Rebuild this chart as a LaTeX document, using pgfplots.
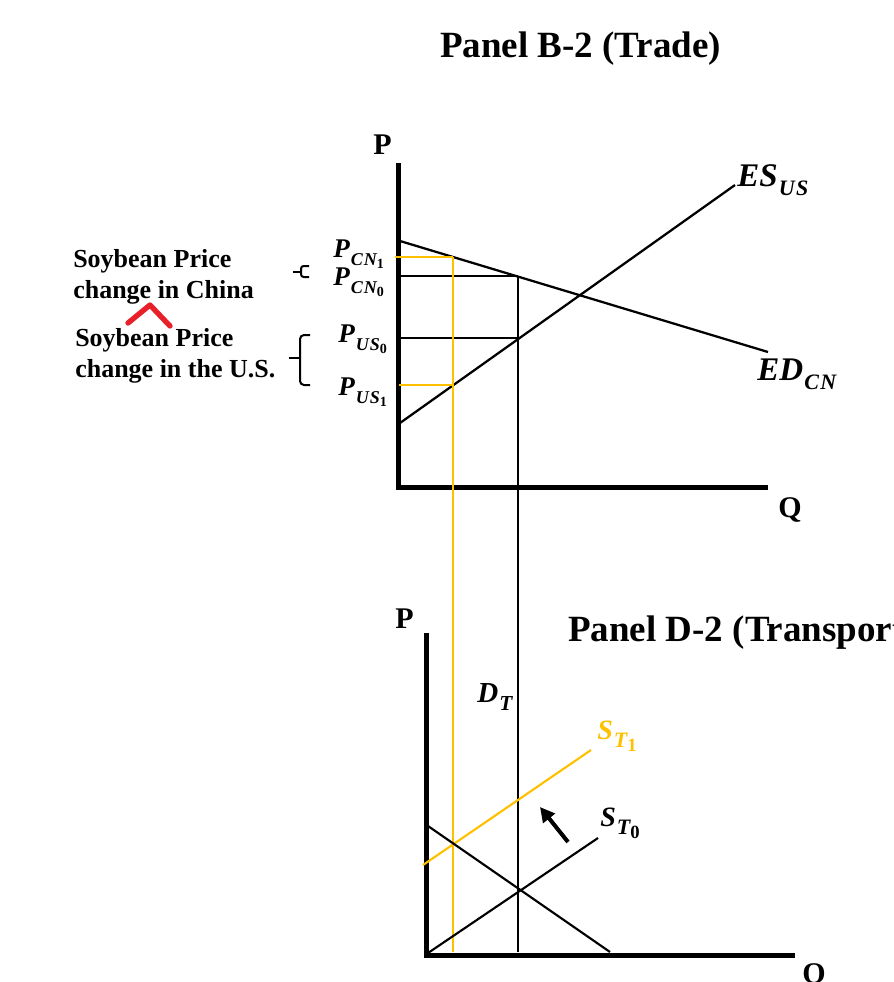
\documentclass[border=0pt]{standalone}
\usepackage{fontspec}
\setmainfont{Liberation Serif}
\usepackage{pgfplots}
\pgfplotsset{compat=1.18}
\usetikzlibrary{arrows.meta}
\definecolor{gold}{HTML}{FFC000}
\definecolor{caret}{HTML}{E8202A}
\newcommand{\fs}[1]{\fontsize{#1}{#1}\selectfont}
\newcommand{\lbl}[6]{{\bfseries\itshape\fs{#1}#4\kern0.04em\raisebox{-0.3em}{\fs{#2}\addfontfeature{LetterSpace=6}#5\raisebox{-0.2em}{\fs{#3}\upshape #6}}}}
\begin{document}
\begin{tikzpicture}
\useasboundingbox (0,0) rectangle (669.75pt,736.5pt);
\clip (0,0) rectangle (669.75pt,736.5pt);
\begin{axis}[
  at={(0,0)}, anchor=south west,
  scale only axis, width=669.75pt, height=736.5pt,
  xmin=0, xmax=893, ymin=0, ymax=982, y dir=reverse,
  hide axis, clip=false,
]
% ---- Panel B-2 axes
\addplot[black, line width=3.75pt, line join=miter] coordinates {(398,163) (398,487) (768,487)};
% ED_CN and ES_US
\addplot[black, line width=1.7pt] coordinates {(400,241) (768,352)};
\addplot[black, line width=1.7pt] coordinates {(400,423) (735,185)};
% initial equilibrium lines
\addplot[black, line width=1.5pt] coordinates {(398,276) (518,276)};
\addplot[black, line width=1.5pt] coordinates {(398,338) (518,338)};
\addplot[black, line width=1.5pt] coordinates {(518,276) (518,952)};
% new equilibrium (gold)
\addplot[gold, line width=1.5pt] coordinates {(395,257) (453,257)};
\addplot[gold, line width=1.5pt] coordinates {(399,385) (453,385)};
\addplot[gold, line width=1.5pt] coordinates {(453,257) (453,952)};
% ---- Panel D-2 axes
\addplot[black, line width=3.75pt, line join=miter] coordinates {(426,633) (426,955) (795,955)};
\addplot[gold, line width=1.6pt] coordinates {(423,865) (591,750)};
\addplot[black, line width=1.6pt] coordinates {(428,953) (598,838)};
\addplot[black, line width=1.6pt] coordinates {(428,826) (610,952)};
\addplot[black, line width=3pt, -{Triangle[length=11pt,width=11pt]}] coordinates {(568,842) (540,807)};
% red caret
\addplot[caret, line width=4pt, line cap=round, line join=round] coordinates {(128,323) (150,305) (170,326)};
% brackets
\draw[black, line width=1.5pt, rounded corners=2pt] (axis cs:309,266) -- (axis cs:301,266) -- (axis cs:301,277) -- (axis cs:309,277);
\draw[black, line width=1.5pt] (axis cs:293,271.5) -- (axis cs:301,271.5);
\draw[black, line width=1.5pt, rounded corners=3pt] (axis cs:310,335) -- (axis cs:300,335) -- (axis cs:300,385) -- (axis cs:310,385);
\draw[black, line width=1.5pt] (axis cs:289,358) -- (axis cs:300,358);
% ---- texts
\node[anchor=base west, inner sep=0, font=\bfseries\fs{27.75}] at (axis cs:440,57) {Panel B-2 (Trade)};
\node[anchor=base west, inner sep=0, font=\bfseries\fs{27.75}] at (axis cs:568,641) {Panel D-2 (Transportation)};
\node[anchor=base west, inner sep=0, font=\bfseries\fs{22.5}] at (axis cs:373,154) {P};
\node[anchor=base west, inner sep=0, font=\bfseries\fs{22.5}] at (axis cs:778,517) {Q};
\node[anchor=base west, inner sep=0, font=\bfseries\fs{22.5}] at (axis cs:395,628) {P};
\node[anchor=base west, inner sep=0, font=\bfseries\fs{22.5}] at (axis cs:802,983) {Q};
\node[anchor=base west, inner sep=0, font=\bfseries\fs{19.5}] at (axis cs:73,267) {Soybean Price};
\node[anchor=base west, inner sep=0, font=\bfseries\fs{19.5}] at (axis cs:73,298) {change in China};
\node[anchor=base west, inner sep=0, font=\bfseries\fs{19.5}] at (axis cs:75,346) {Soybean Price};
\node[anchor=base west, inner sep=0, font=\bfseries\fs{19.5}] at (axis cs:75,377) {change in the U.S.};
\node[anchor=base west, inner sep=0] at (axis cs:333,257) {\lbl{20.25}{13.5}{10.5}{P}{CN}{1}};
\node[anchor=base west, inner sep=0] at (axis cs:333,285) {\lbl{20.25}{13.5}{10.5}{P}{CN}{0}};
\node[anchor=base west, inner sep=0] at (axis cs:338,342) {\lbl{20.25}{13.5}{10.5}{P}{US}{0}};
\node[anchor=base west, inner sep=0] at (axis cs:338,395) {\lbl{20.25}{13.5}{10.5}{P}{US}{1}};
\node[anchor=base west, inner sep=0] at (axis cs:737,186) {\lbl{24.75}{16.5}{1}{ES}{US}{}};
\node[anchor=base west, inner sep=0] at (axis cs:757,380) {\lbl{24.75}{16.5}{1}{ED}{CN}{}};
\node[anchor=base west, inner sep=0] at (axis cs:477,702) {\lbl{21.75}{16}{1}{D}{T}{}};
\node[anchor=base west, inner sep=0, text=gold] at (axis cs:597,739) {\lbl{21}{16.5}{14}{S}{T}{1}};
\node[anchor=base west, inner sep=0] at (axis cs:600,826) {\lbl{21}{16.5}{14}{S}{T}{0}};
\end{axis}
\end{tikzpicture}
\end{document}
